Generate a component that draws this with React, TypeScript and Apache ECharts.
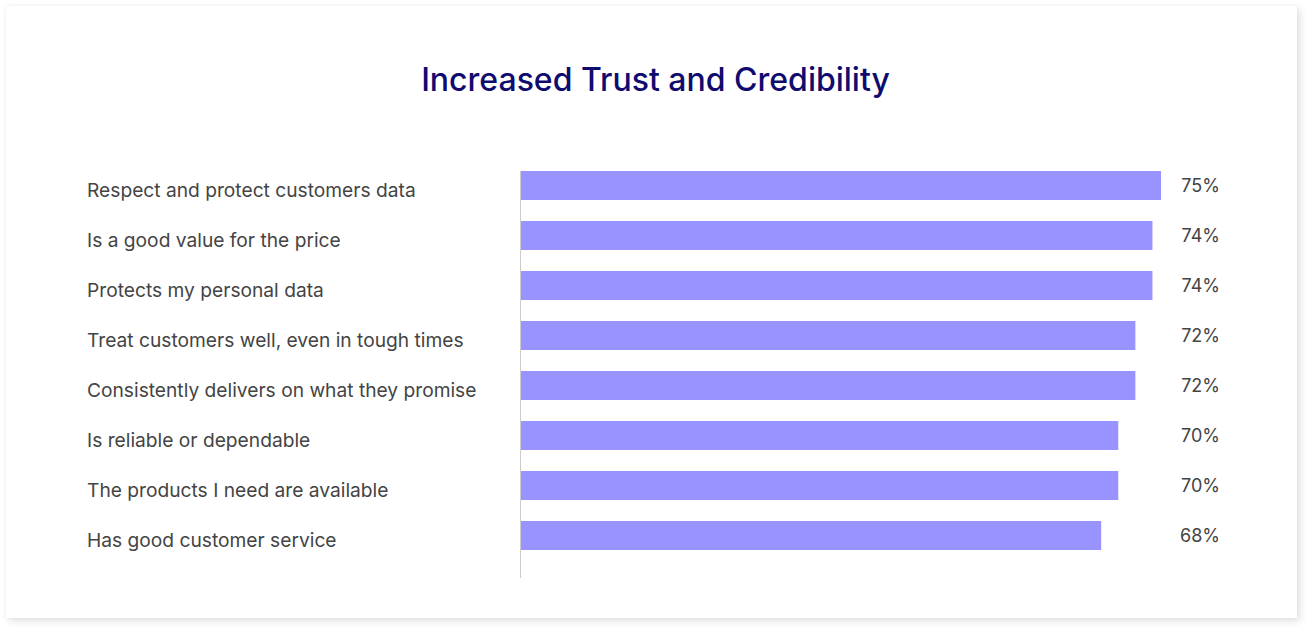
import React, { useEffect, useRef } from "react";
import * as echarts from "echarts";

// Survey attributes, top to bottom as listed
const categories = [
  "Respect and protect customers data",
  "Is a good value for the price",
  "Protects my personal data",
  "Treat customers well, even in tough times",
  "Consistently delivers on what they promise",
  "Is reliable or dependable",
  "The products I need are available",
  "Has good customer service",
];

// Share of respondents (%)
const values = [75, 74, 74, 72, 72, 70, 70, 68];

const titleText = "Increased Trust and Credibility";

export default function App() {
  const ref = useRef<HTMLDivElement>(null);

  useEffect(() => {
    if (!ref.current) return;
    const chart = echarts.init(ref.current, undefined, { renderer: "svg" });
    const cats = [...categories].reverse();
    const vals = [...values].reverse();
    chart.setOption({
      animation: false,
      backgroundColor: "transparent",
      title: {
        text: titleText,
        left: "center",
        top: 58,
        textStyle: {
          fontFamily: "Inter",
          fontSize: 32,
          fontWeight: 500,
          color: "#100b6e",
        },
      },
      grid: { left: 520, top: 160.5, width: 641, height: 400 },
      xAxis: {
        type: "value",
        min: 0,
        max: 75,
        show: false,
      },
      yAxis: [
        {
          type: "category",
          data: cats,
          axisLine: { show: false },
          axisTick: { show: false },
          splitLine: { show: false },
          axisLabel: {
            align: "left",
            verticalAlign: "top",
            lineHeight: 8,
            margin: 433,
            fontFamily: "Inter",
            fontSize: 19.2,
            color: "#444444",
          },
        },
        {
          type: "category",
          position: "right",
          data: vals.map((v) => v + "%"),
          axisLine: { show: false },
          axisTick: { show: false },
          splitLine: { show: false },
          axisLabel: {
            align: "right",
            margin: 59,
            fontFamily: "Inter",
            fontSize: 18,
            color: "#444444",
          },
        },
      ],
      series: [
        {
          type: "bar",
          data: vals,
          barWidth: 29,
          itemStyle: { color: "#9993ff" },
          silent: true,
        },
      ],
      graphic: [
        {
          type: "line",
          shape: { x1: 520.5, y1: 171, x2: 520.5, y2: 578 },
          style: { stroke: "#cccccc", lineWidth: 1 },
          z: 10,
        },
      ],
    });
    return () => chart.dispose();
  }, []);

  return (
    <div
      style={{
        position: "fixed",
        left: 0,
        top: 0,
        width: 1311,
        height: 633,
        background: "#ffffff",
      }}
    >
      <div
        style={{
          position: "absolute",
          left: 6,
          top: 6,
          width: 1291,
          height: 612,
          background: "#ffffff",
          boxShadow: "3px 3px 8px rgba(0,0,0,0.12), 0 0 3px rgba(0,0,0,0.05)",
        }}
      />
      <div
        ref={ref}
        style={{ position: "absolute", left: 0, top: 0, width: 1311, height: 633 }}
      />
    </div>
  );
}
